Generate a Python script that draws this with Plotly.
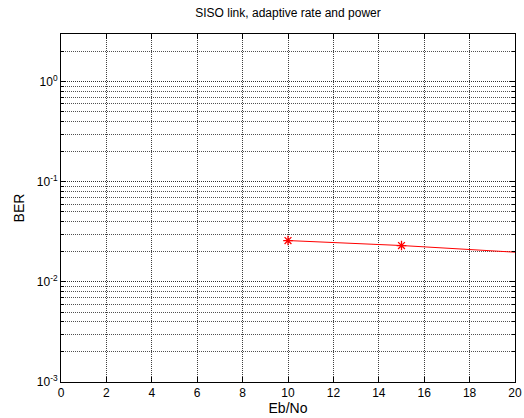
import plotly.graph_objects as go
import math

eb_no = [10, 15, 25]
ber = [0.0259, 0.0231, 0.0170]

x_ticks = list(range(0, 21, 2))
y_major = [1e-3, 1e-2, 1e-1, 1e0]
y_major_text = ["10<sup>-3</sup>", "10<sup>-2</sup>", "10<sup>-1</sup>", "10<sup>0</sup>"]
y_minor = [m * 10.0 ** e for e in range(-3, 1) for m in range(2, 10)]

fig = go.Figure()
fig.add_trace(go.Scatter(
    x=eb_no, y=ber, mode="lines+markers",
    line=dict(color="red", width=1),
    marker=dict(symbol="asterisk-open", size=8, color="red", line=dict(color="red", width=1.3)),
    cliponaxis=True, showlegend=False,
))

font = dict(family="Liberation Sans, Arial, sans-serif", size=12, color="black")

fig.update_layout(
    width=524, height=418,
    margin=dict(l=61, r=9, t=34, b=36, autoexpand=False),
    paper_bgcolor="white", plot_bgcolor="white",
    font=font,
    title=dict(text="SISO link, adaptive rate and power", x=0.5, xref="paper", xanchor="center",
               y=0.98, yanchor="top", font=dict(size=12)),
    xaxis=dict(
        range=[0, 20], tickmode="array", tickvals=x_ticks,
        ticktext=[str(v) for v in x_ticks],
        showgrid=True, gridcolor="#404040", griddash="1px,1px", gridwidth=1,
        showline=True, linecolor="black", linewidth=1, mirror="ticks",
        ticks="inside", ticklen=5, tickcolor="black",
        zeroline=False, automargin=False,
        title=dict(text="Eb/No", standoff=2),
    ),
    yaxis=dict(
        type="log", range=[-3, math.log10(3)],
        tickmode="array", tickvals=y_major, ticktext=y_major_text,
        showgrid=True, gridcolor="#303030", griddash="1px,1px", gridwidth=1,
        showline=True, linecolor="black", linewidth=1, mirror="ticks",
        ticks="inside", ticklen=5, tickcolor="black",
        minor=dict(tickmode="array", tickvals=y_minor, showgrid=True,
                   gridcolor="#505050", griddash="1px,1px", gridwidth=1,
                   ticks="inside", ticklen=3, tickcolor="black"),
        zeroline=False, automargin=False,
        title=dict(text="BER", standoff=8),
    ),
)

fig.write_html("out.html", config={"displayModeBar": False},
               post_script="document.body.style.margin='0';")
